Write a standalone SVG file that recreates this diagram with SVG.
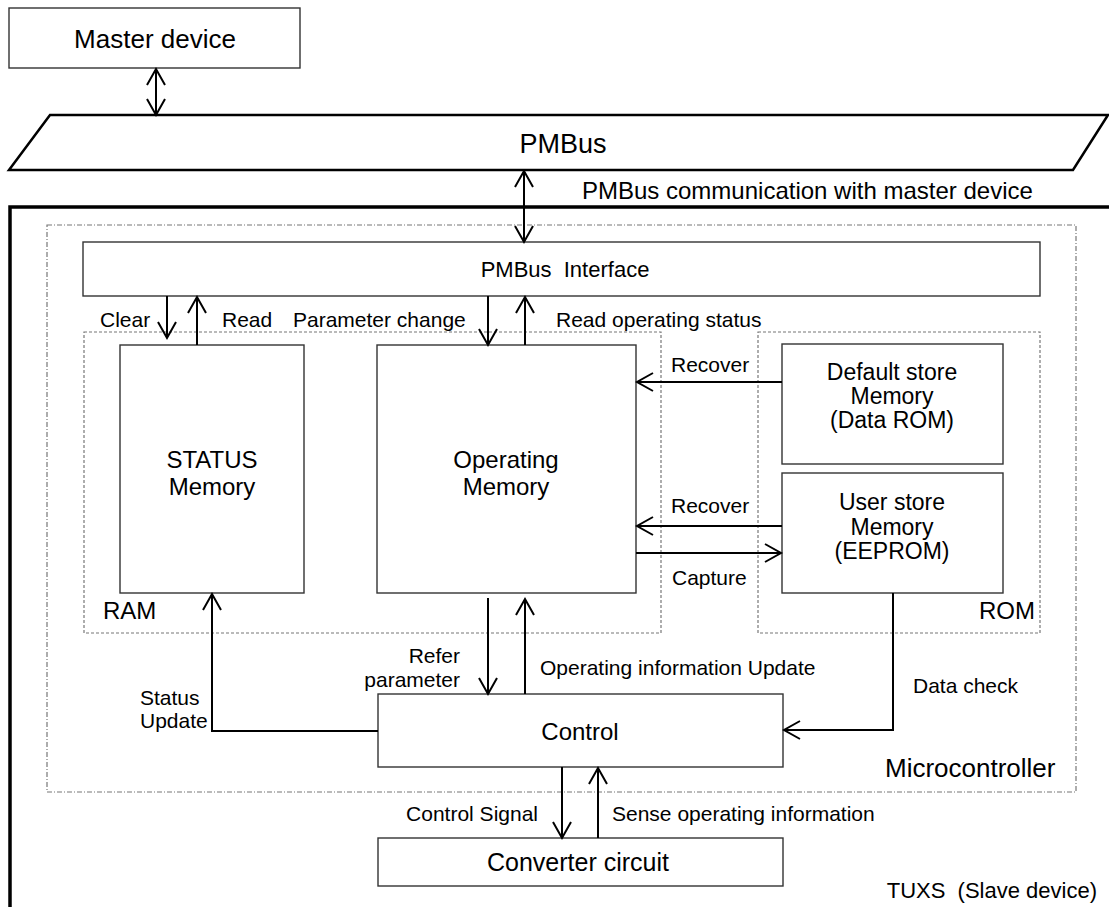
<svg xmlns="http://www.w3.org/2000/svg" width="1109" height="907" viewBox="0 0 1109 907">
<style>
text{font-family:"Liberation Sans",Arial,sans-serif;fill:#000}
.lbl{font-size:21px}
.nd{font-size:24px}
.box{fill:#fff;stroke:#333;stroke-width:1.4}
.grp{fill:none;stroke:#777;stroke-width:1.2;stroke-dasharray:3 2}
.mc{fill:none;stroke:#777;stroke-width:1.2;stroke-dasharray:5 2 1 2}
.c{fill:none;stroke:#000;stroke-width:2}
.a{marker-end:url(#ah)}
.aa{marker-start:url(#ah2);marker-end:url(#ah)}
</style>
<defs>
<marker id="ah" markerUnits="userSpaceOnUse" viewBox="-20 -12 24 24" refX="0" refY="0" markerWidth="24" markerHeight="24" orient="auto" overflow="visible">
<path d="M-16,-9 L0,0 L-16,9" fill="none" stroke="#000" stroke-width="2"/>
</marker>
<marker id="ah2" markerUnits="userSpaceOnUse" viewBox="-20 -12 24 24" refX="0" refY="0" markerWidth="24" markerHeight="24" orient="auto-start-reverse" overflow="visible">
<path d="M-16,-9 L0,0 L-16,9" fill="none" stroke="#000" stroke-width="2"/>
</marker>
</defs>

<g id="tuxs">
<path d="M10,907 V207 H1109" fill="none" stroke="#000" stroke-width="3.5"/>
<text x="1097" y="898" font-size="22" text-anchor="end" xml:space="preserve">TUXS  (Slave device)</text>
</g>
<g id="microcontroller">
<rect class="mc" x="47" y="225" width="1029" height="567"/>
<text x="885" y="777" font-size="26">Microcontroller</text>
</g>
<g id="ram">
<rect class="grp" x="84" y="332" width="577" height="301"/>
<text x="103" y="619" font-size="24">RAM</text>
</g>
<g id="rom">
<rect class="grp" x="758" y="332" width="282" height="301"/>
<text x="1035" y="619" font-size="24" text-anchor="end">ROM</text>
</g>

<g id="master">
<rect class="box" x="9" y="8" width="291" height="60"/>
<text x="155" y="48" font-size="26" text-anchor="middle">Master device</text>
</g>
<g id="pmbus">
<path d="M50,115 H1108 L1073,170 H9 Z" fill="#fff" stroke="#000" stroke-width="2.5"/>
<text x="563" y="153" font-size="27" text-anchor="middle">PMBus</text>
</g>
<g id="interface">
<rect class="box" x="83" y="242" width="957" height="54"/>
<text x="565" y="277" font-size="22" text-anchor="middle" xml:space="preserve">PMBus  Interface</text>
</g>
<g id="status">
<rect class="box" x="120" y="345" width="184" height="248"/>
<text class="nd" x="212" y="468" text-anchor="middle">STATUS</text>
<text class="nd" x="212" y="495" text-anchor="middle">Memory</text>
</g>
<g id="operating">
<rect class="box" x="377" y="345" width="259" height="248"/>
<text class="nd" x="506" y="468" text-anchor="middle">Operating</text>
<text class="nd" x="506" y="495" text-anchor="middle">Memory</text>
</g>
<g id="default">
<rect class="box" x="782" y="344" width="221" height="120"/>
<text x="892" y="380" font-size="23" text-anchor="middle">Default store</text>
<text x="892" y="404" font-size="23" text-anchor="middle">Memory</text>
<text x="892" y="428" font-size="23" text-anchor="middle">(Data ROM)</text>
</g>
<g id="user">
<rect class="box" x="782" y="473" width="221" height="120"/>
<text x="892" y="510" font-size="23" text-anchor="middle">User store</text>
<text x="892" y="535" font-size="23" text-anchor="middle">Memory</text>
<text x="892" y="559" font-size="23" text-anchor="middle">(EEPROM)</text>
</g>
<g id="control">
<rect class="box" x="378" y="694" width="405" height="73"/>
<text class="nd" x="580" y="740" text-anchor="middle">Control</text>
</g>
<g id="converter">
<rect class="box" x="378" y="838" width="405" height="48"/>
<text x="578" y="871" font-size="25" text-anchor="middle">Converter circuit</text>
</g>

<g id="connectors">
<line class="c aa" x1="156" y1="69" x2="156" y2="115"/>
<line class="c aa" x1="524" y1="171" x2="524" y2="242"/>
<text x="582" y="199" font-size="24">PMBus communication with master device</text>

<line class="c a" x1="167" y1="296" x2="167" y2="338"/>
<text class="lbl" x="100" y="327">Clear</text>
<line class="c a" x1="197" y1="345" x2="197" y2="297"/>
<text class="lbl" x="222" y="327">Read</text>
<line class="c a" x1="488" y1="296" x2="488" y2="345"/>
<text class="lbl" x="293" y="327">Parameter change</text>
<line class="c a" x1="525" y1="345" x2="525" y2="297"/>
<text class="lbl" x="556" y="327">Read operating status</text>

<line class="c a" x1="782" y1="382" x2="637" y2="382"/>
<text class="lbl" x="671" y="372">Recover</text>
<line class="c a" x1="782" y1="526" x2="637" y2="526"/>
<text class="lbl" x="671" y="513">Recover</text>
<line class="c a" x1="636" y1="553" x2="781" y2="553"/>
<text class="lbl" x="672" y="585">Capture</text>

<line class="c a" x1="488" y1="598" x2="488" y2="694"/>
<text class="lbl" x="460" y="663" text-anchor="end">Refer</text>
<text class="lbl" x="460" y="687" text-anchor="end">parameter</text>
<line class="c a" x1="525" y1="694" x2="525" y2="599"/>
<text class="lbl" x="540" y="675">Operating information Update</text>

<path class="c a" d="M378,731 H212 V594"/>
<text class="lbl" x="140" y="705">Status</text>
<text class="lbl" x="140" y="728">Update</text>

<path class="c a" d="M893,593 V730 H784"/>
<text class="lbl" x="913" y="693">Data check</text>

<line class="c a" x1="562" y1="767" x2="562" y2="838"/>
<text class="lbl" x="538" y="821" text-anchor="end">Control Signal</text>
<line class="c a" x1="598" y1="838" x2="598" y2="768"/>
<text class="lbl" x="612" y="821">Sense operating information</text>
</g>
</svg>
